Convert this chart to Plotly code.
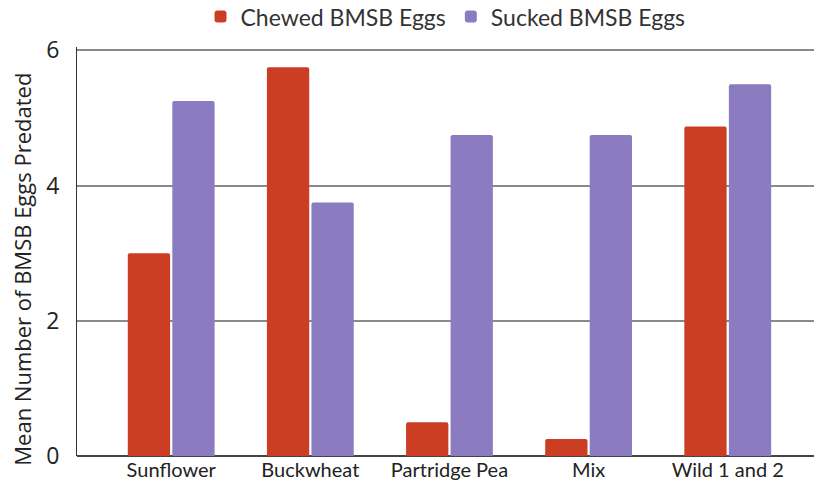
import plotly.graph_objects as go

categories = ["Sunflower", "Buckwheat", "Partridge Pea", "Mix", "Wild 1 and 2"]
chewed = [3.0, 5.75, 0.5, 0.25, 4.875]
sucked = [5.25, 3.75, 4.75, 4.75, 5.5]
y_ticks = [0, 2, 4, 6]
y_title = "Mean Number of BMSB Eggs Predated"

label_font = "Lato, Carlito, sans-serif"

fig = go.Figure()
fig.add_bar(x=categories, y=chewed, name="Chewed BMSB Eggs",
            marker=dict(color="#CB3E23", cornerradius=2, line=dict(width=0)))
fig.add_bar(x=categories, y=sucked, name="Sucked BMSB Eggs",
            marker=dict(color="#8B7CC1", cornerradius=2, line=dict(width=0)))

fig.update_layout(
    width=814, height=488,
    margin=dict(l=77, r=0, t=47, b=32),
    paper_bgcolor="white", plot_bgcolor="white",
    barmode="group", bargap=0.36, bargroupgap=0.05,
    showlegend=True,
    legend=dict(orientation="h", x=0.5, xanchor="center",
                yref="container", y=0.966, yanchor="middle",
                font=dict(family=label_font, size=23, color="#333"),
                itemwidth=30, traceorder="normal"),
    xaxis=dict(range=[-0.677, 4.62], showgrid=False, ticks="", automargin=False,
               tickfont=dict(family=label_font, size=20, color="#222"),
               showline=False, zeroline=False),
    yaxis=dict(range=[0, 6.05], tickvals=y_ticks, showgrid=True, gridcolor="#8a8a8a",
               gridwidth=1.5, zeroline=True, zerolinecolor="#444", zerolinewidth=1.5,
               showline=True, linecolor="#333", linewidth=1.2, automargin=False,
               tickfont=dict(family="Open Sans, sans-serif", size=23, color="#222"),
               ticks="", ticklabelstandoff=12),
    annotations=[dict(text=y_title, textangle=-90, xref="paper", yref="paper",
                      x=0, y=0.475, xanchor="center", yanchor="middle", xshift=-55,
                      yshift=-8, showarrow=False,
                      font=dict(family="Open Sans, sans-serif", size=22, color="#222"))],
)
fig.write_html("out.html", config={"displayModeBar": False},
               post_script="document.body.style.margin='0';document.body.style.overflow='hidden';")
